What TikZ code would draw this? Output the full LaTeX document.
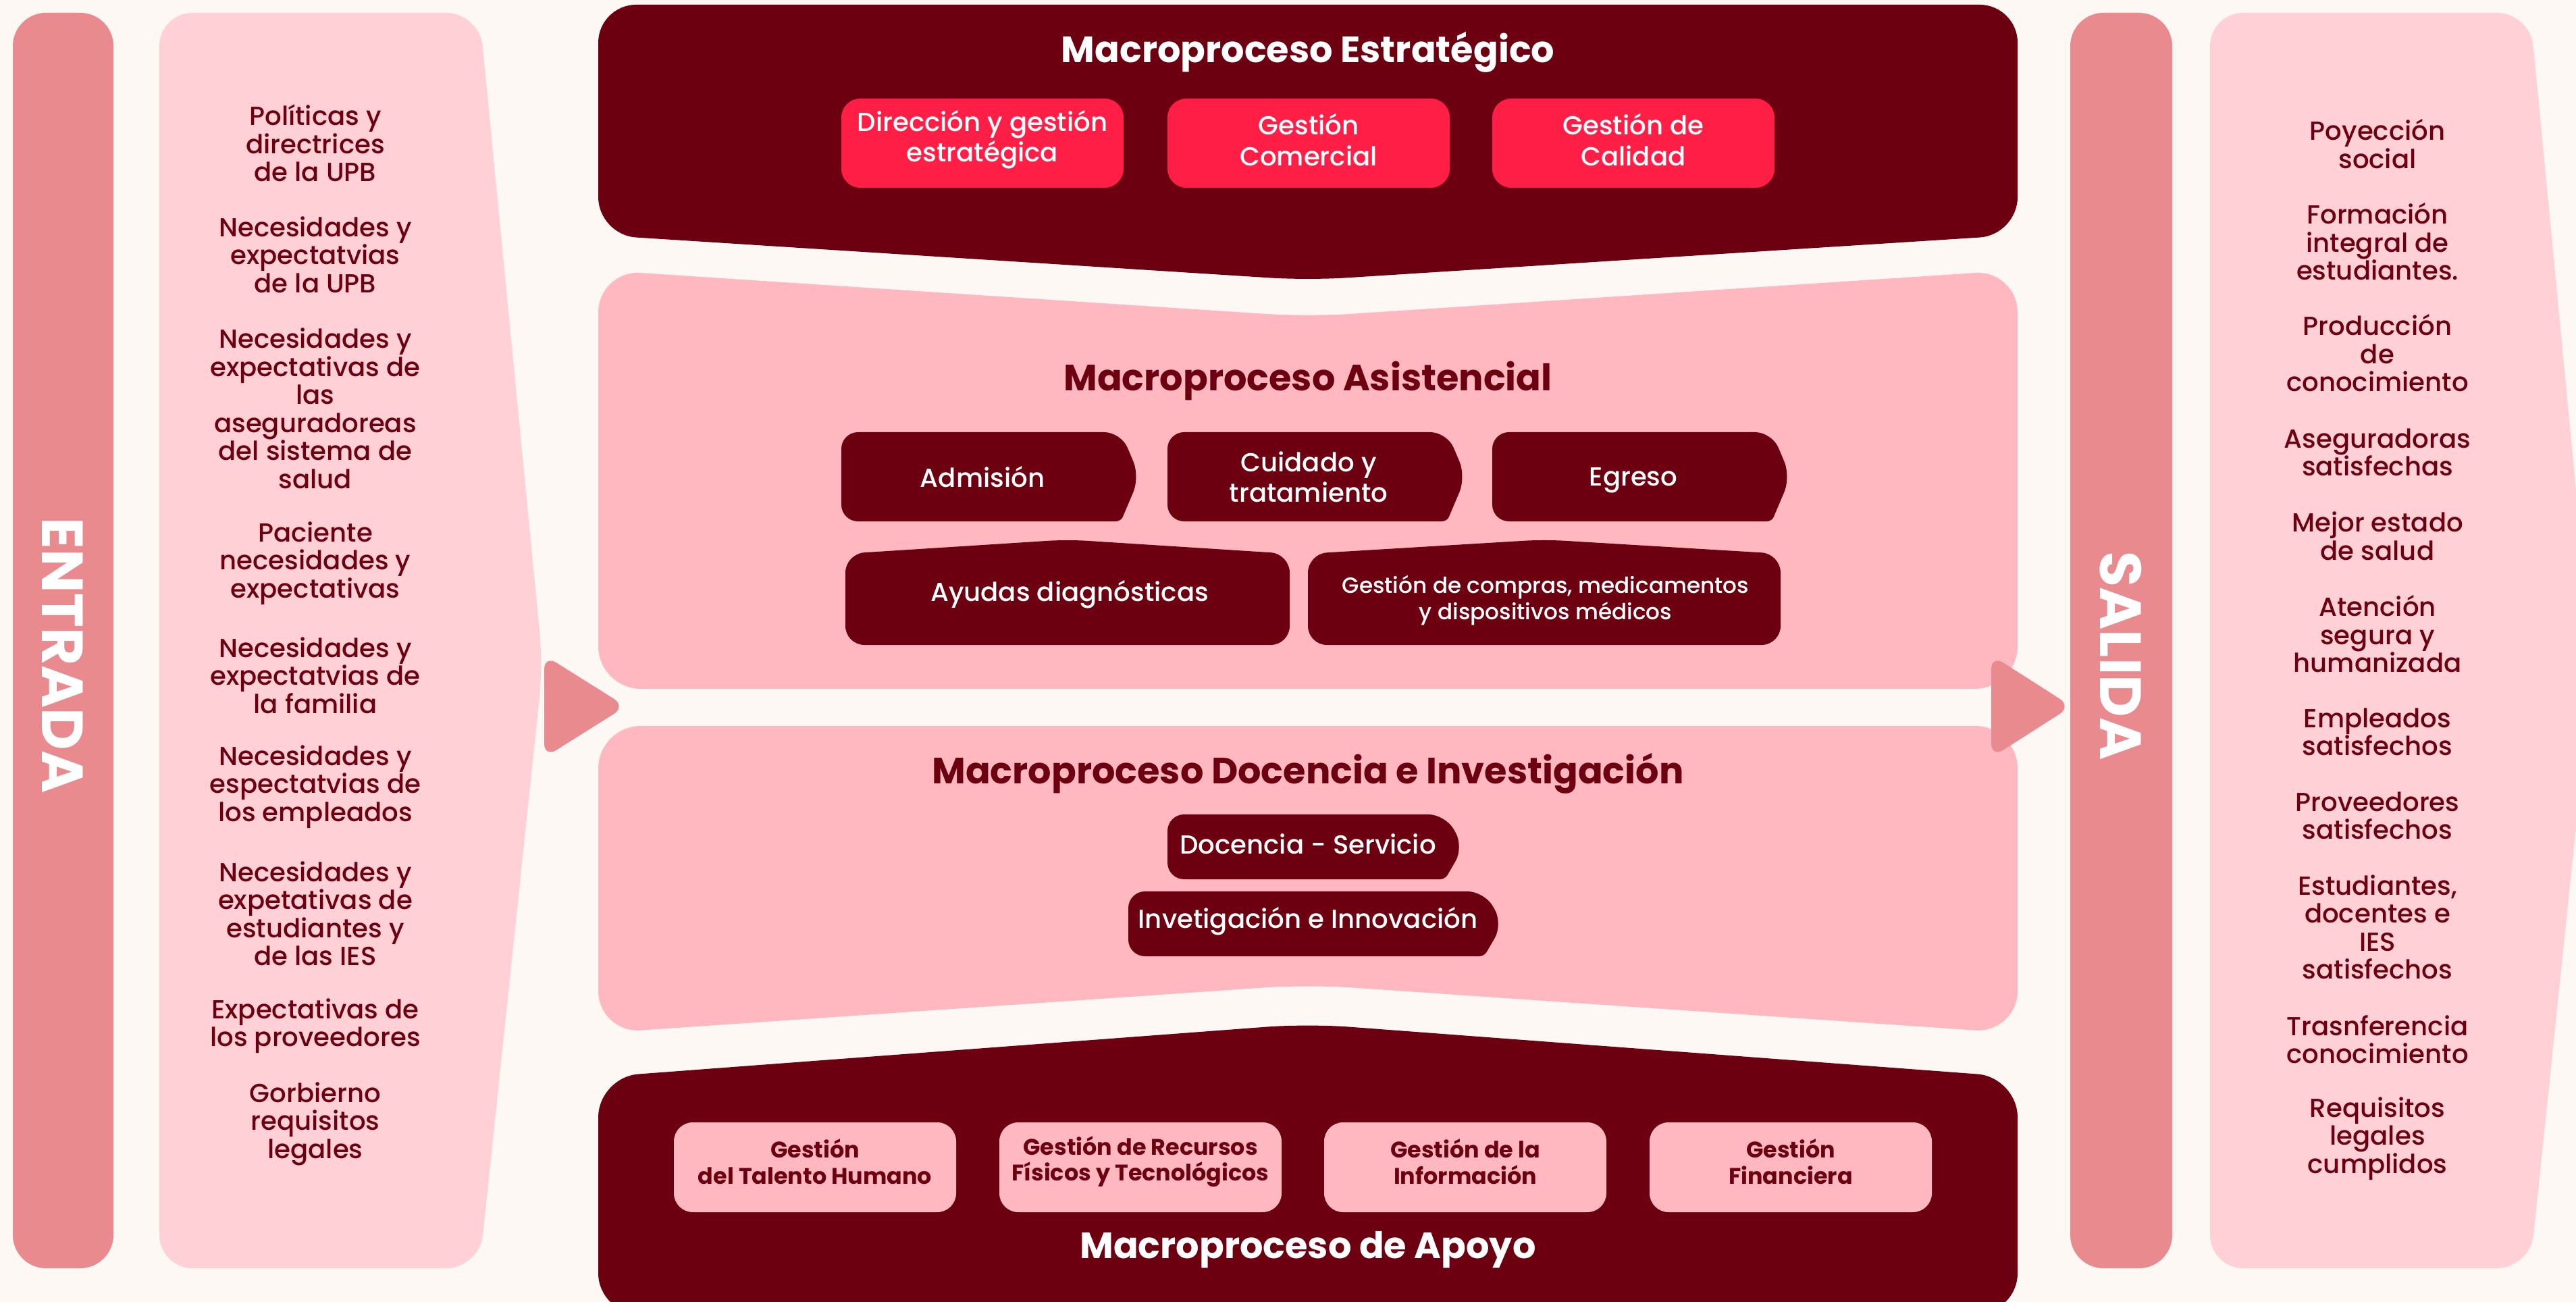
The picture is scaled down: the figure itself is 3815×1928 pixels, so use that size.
\documentclass[tikz,border=0pt]{standalone}
\usepackage{fontspec}
\setmainfont{Poppins}[UprightFont={* Medium},BoldFont={* Bold}]
\usetikzlibrary{positioning}
\definecolor{crema}{HTML}{FDF8F3}
\definecolor{barra}{HTML}{E98A8F}
\definecolor{panel}{HTML}{FFD0D6}
\definecolor{rosa}{HTML}{FFB7C0}
\definecolor{vino}{HTML}{6D0010}
\definecolor{rojo}{HTML}{FF1F46}
\tikzset{
  lista/.style={font=\fontsize{11}{11.8}\selectfont,text=vino,align=center},
  titulo/.style={font=\fontsize{15.4}{17}\selectfont\bfseries,align=center},
  caja/.style={font=\fontsize{11}{12.9}\selectfont,text=white,align=center},
  cajab/.style={font=\fontsize{9.5}{11}\selectfont\bfseries,text=vino,align=center},
  lateral/.style={font=\fontsize{24.5}{26}\selectfont\bfseries,text=white,rotate=-90}
}
\begin{document}
\begin{tikzpicture}[x=0.01cm,y=-0.01cm]
  \useasboundingbox (0,0) rectangle (3815,1928);
  \clip (0,0) rectangle (3815,1928);
  \fill[crema] (0,0) rectangle (3815,1928);

  % Entrada
  \fill[barra,rounded corners=14pt] (19,19) rectangle (168,1878);
  \node[lateral] (entrada) at (93,971) {ENTRADA};
  \fill[panel,rounded corners=14pt] (236,19) -- (710,19) -- (804,985) -- (710,1878) -- (236,1878) -- cycle;
  \node[lista] (e1) at (467,212) {Políticas y\\directrices\\de la UPB};
  \node[lista] (e2) at (467,377) {Necesidades y\\expectatvias\\de la UPB};
  \node[lista] (e3) at (467,605) {Necesidades y\\expectativas de\\las\\aseguradoreas\\del sistema de\\salud};
  \node[lista] (e4) at (467,834) {Paciente\\necesidades y\\expectativas};
  \node[lista] (e5) at (467,1000) {Necesidades y\\expectatvias de\\la familia};
  \node[lista] (e6) at (467,1165) {Necesidades y\\espectatvias de\\los empleados};
  \node[lista] (e7) at (467,1353) {Necesidades y\\expetativas de\\estudiantes y\\de las IES};
  \node[lista] (e8) at (467,1519) {Expectativas de\\los proveedores};
  \node[lista] (e9) at (467,1664) {Gorbierno\\requisitos\\legales};
  \fill[barra,rounded corners=6pt] (806,970) -- (927,1046) -- (806,1122) -- cycle;

  % Estrategico
  \fill[vino,rounded corners=16pt] (1937,415) -- (886,348) -- (886,7) -- (2988,7) -- (2988,348) -- cycle;
  \node[titulo,text=white] (estr) at (1937,77) {Macroproceso Estratégico};
  \foreach \x/\nom/\txt in {1246/dir/{Dirección y gestión\\estratégica}, 1729/com/{Gestión\\Comercial}, 2210/cal/{Gestión de\\Calidad}} {
    \fill[rojo,rounded corners=8pt] (\x,146) rectangle (\x+418,278);
    \node[caja] (\nom) at (\x+209,207) {\txt};
  }

  % Asistencial
  \fill[rosa,rounded corners=18pt] (886,400) -- (1937,469) -- (2988,400) -- (2988,1020) -- (886,1020) -- cycle;
  \node[titulo,text=vino] (asis) at (1937,564) {Macroproceso Asistencial};
  \foreach \x/\nom/\txt/\dy in {1246/adm/Admisión/0, 1729/cui/{Cuidado y\\tratamiento}/0, 2210/egr/Egreso/5} {
    \fill[vino,rounded corners=7pt] (\x,640) -- (\x+414,640) -- (\x+442,706) [rounded corners=2pt] -- (\x+414,772) [rounded corners=7pt] -- (\x,772) -- cycle;
    \node[caja] (\nom) at (\x+209,706+\dy) {\txt};
  }
  \fill[vino,rounded corners=8pt] (1252,955) -- (1252,820) -- (1581,799) -- (1910,820) -- (1910,955) -- cycle;
  \node[caja] (ayu) at (1584,880) {Ayudas diagnósticas};
  \fill[vino,rounded corners=8pt] (1937,955) -- (1937,820) -- (2287,799) -- (2637,820) -- (2637,955) -- cycle;
  \node[caja,font=\fontsize{9.3}{11}\selectfont] (comp) at (2289,889) {Gestión de compras, medicamentos\\y dispositivos médicos};

  % Docencia
  \fill[rosa,rounded corners=18pt] (886,1075) -- (2988,1075) -- (2988,1530) -- (1937,1458) -- (886,1530) -- cycle;
  \node[titulo,text=vino] (doc) at (1937,1145) {Macroproceso Docencia e Investigación};
  \fill[vino,rounded corners=7pt] (1729,1206) -- (2140,1206) -- (2168,1254) [rounded corners=2pt] -- (2140,1302) [rounded corners=7pt] -- (1729,1302) -- cycle;
  \node[caja] (dser) at (1937,1250) {Docencia - Servicio};
  \fill[vino,rounded corners=7pt] (1671,1320) -- (2198,1320) -- (2226,1368) [rounded corners=2pt] -- (2198,1416) [rounded corners=7pt] -- (1671,1416) -- cycle;
  \node[caja] (inv) at (1937,1364) {Invetigación e Innovación};
  \fill[barra,rounded corners=6pt] (2949,970) -- (3068,1046) -- (2949,1122) -- cycle;

  % Apoyo
  \fill[vino,rounded corners=17pt] (886,1595) -- (1937,1516) -- (2988,1595) -- (2988,1945) -- (886,1945) -- cycle;
  \foreach \x/\nom/\txt in {998/tal/{Gestión\\del Talento Humano}, 1480/rec/{Gestión de Recursos\\Físicos y Tecnológicos}, 1961/inf/{Gestión de la\\Información}, 2443/fin/{Gestión\\Financiera}} {
    \fill[rosa,rounded corners=8pt] (\x,1662) rectangle (\x+418,1795);
    \node[cajab] (\nom) at (\x+209,1720) {\txt};
  }
  \node[titulo,text=white] (apo) at (1937,1851) {Macroproceso de Apoyo};

  % Salida
  \fill[barra,rounded corners=14pt] (3066,19) rectangle (3217,1878);
  \node[lateral] (salida) at (3141,971) {SALIDA};
  \fill[panel,rounded corners=14pt] (3273,19) -- (3747,19) -- (3840,985) -- (3747,1878) -- (3273,1878) -- cycle;
  \node[lista] (s1) at (3521,213) {Poyección\\social};
  \node[lista] (s2) at (3521,358) {Formación\\integral de\\estudiantes.};
  \node[lista] (s3) at (3521,523) {Producción\\de\\conocimiento};
  \node[lista] (s4) at (3521,670) {Aseguradoras\\satisfechas};
  \node[lista] (s5) at (3521,794) {Mejor estado\\de salud};
  \node[lista] (s6) at (3521,939) {Atención\\segura y\\humanizada};
  \node[lista] (s7) at (3521,1084) {Empleados\\satisfechos};
  \node[lista] (s8) at (3521,1208) {Proveedores\\satisfechos};
  \node[lista] (s9) at (3521,1373) {Estudiantes,\\docentes e\\IES\\satisfechos};
  \node[lista] (s10) at (3521,1539) {Trasnferencia\\conocimiento};
  \node[lista] (s11) at (3521,1686) {Requisitos\\legales\\cumplidos};
\end{tikzpicture}
\end{document}
